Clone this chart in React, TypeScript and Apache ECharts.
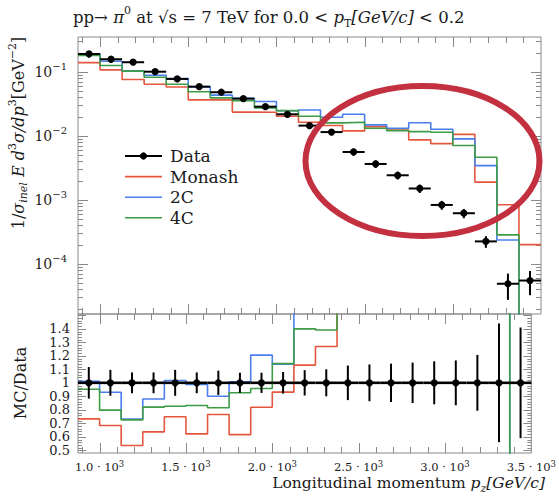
import React, { useEffect, useRef } from 'react';
import * as echarts from 'echarts';

// ---- data ----
const BIN_EDGES = [875, 1000, 1125, 1250, 1375, 1500, 1625, 1750, 1875, 2000, 2125, 2250, 2375, 2500, 2625, 2750, 2875, 3000, 3125, 3250, 3375, 3500];
const DATA = [0.191, 0.158, 0.142, 0.101, 0.0778, 0.059, 0.0482, 0.0383, 0.0287, 0.0218, 0.0145, 0.0115, 0.00562, 0.00365, 0.00243, 0.00151, 0.000835, 0.00062, 0.000225, 0.000049, 0.000055];
const DATA_ERR = [0.117, 0.096, 0.077, 0.077, 0.096, 0.077, 0.09, 0.075, 0.075, 0.08, 0.094, 0.1, 0.128, 0.136, 0.142, 0.15, 0.159, 0.166, 0.207, 0.44, 0.41];
const MONASH = [0.140, 0.108, 0.0761, 0.0643, 0.0582, 0.0367, 0.0369, 0.0236, 0.0235, 0.0203, 0.0164, 0.0146, 0.0120, 0.0140, 0.0124, 0.0087, 0.0076, 0.0106, 0.0019, 0.00084, 0.0002];
const TUNE_2C = [0.193, 0.147, 0.104, 0.0889, 0.0791, 0.0583, 0.0434, 0.0386, 0.0346, 0.0248, 0.0255, 0.0196, 0.0218, 0.0149, 0.0132, 0.0161, 0.0127, 0.0090, 0.00344, 0.000237, 0];
const TUNE_4C = [0.182, 0.126, 0.103, 0.0828, 0.0643, 0.0491, 0.0393, 0.0355, 0.0275, 0.0249, 0.0203, 0.016, 0.0164, 0.0132, 0.0121, 0.0117, 0.0114, 0.0071, 0.00464, 0.000284, 0];

const X_LABELS = [1000, 1500, 2000, 2500, 3000, 3500];
const RATIO_LABELS = [0.5, 0.6, 0.7, 0.8, 0.9, 1.0, 1.1, 1.2, 1.3, 1.4];

const SERIES_NAMES = ['Monash', '2C', '4C'];
const COLORS = ['#e4573e', '#4b7ff0', '#3e9c47'];

const FRAME = '#8a8a8a';
const FONT = 'DejaVu Serif';
const TEXT = '#1a1a1a';

const X_MIN = 875, X_MAX = 3500;
const Y_MIN = 1.65e-5, Y_MAX = 0.352;
const R_MIN = 0.48, R_MAX = 1.51;

function buildOption() {
  const centers = DATA.map((_, i) => (BIN_EDGES[i] + BIN_EDGES[i + 1]) / 2);
  const posLog = (v: number) => (v > 0 ? v : 1e-9);
  const stepData = (vals: number[], f: (v: number, i: number) => number) => {
    const pts = vals.map((v, i) => [BIN_EDGES[i], f(v, i)]);
    pts.push([BIN_EDGES[vals.length], f(vals[vals.length - 1], vals.length - 1)]);
    return pts;
  };
  const mcs = [MONASH, TUNE_2C, TUNE_4C];

  // tick decoration lists
  const xTicks: number[] = [];
  for (let v = 900; v < X_MAX; v += 100) xTicks.push(v);
  const logTicks: number[] = [];
  for (let k = -5; k <= -1; k++) for (let d = 1; d <= 9; d++) {
    const v = d * Math.pow(10, k);
    if (v > Y_MIN && v < Y_MAX) logTicks.push(v);
  }
  const rTicks: number[] = [];
  for (let j = 25; j <= 75; j++) rTicks.push(j * 0.02);

  const tickRender = (yTicks: number[], isMajorY: (v: number) => boolean, yRef: number, xLenMaj: number, xLenMin: number, yLenMaj: number, yLenMin: number) =>
    (params: any, api: any) => {
      const cs = params.coordSys;
      const ch: any[] = [];
      const st = { stroke: FRAME, lineWidth: 1 };
      for (const v of xTicks) {
        const px = Math.round(api.coord([v, yRef])[0]) + 0.5;
        const len = v % 500 === 0 ? xLenMaj : xLenMin;
        ch.push({ type: 'line', shape: { x1: px, y1: cs.y, x2: px, y2: cs.y + len }, style: st });
        ch.push({ type: 'line', shape: { x1: px, y1: cs.y + cs.height, x2: px, y2: cs.y + cs.height - len }, style: st });
      }
      for (const v of yTicks) {
        const py = Math.round(api.coord([1000, v])[1]) + 0.5;
        const len = isMajorY(v) ? yLenMaj : yLenMin;
        ch.push({ type: 'line', shape: { x1: cs.x, y1: py, x2: cs.x + len, y2: py }, style: st });
        ch.push({ type: 'line', shape: { x1: cs.x + cs.width, y1: py, x2: cs.x + cs.width - len, y2: py }, style: st });
      }
      return { type: 'group', children: ch };
    };

  const errRender = (hw: number, r: number) => (params: any, api: any) => {
    const c = api.coord([api.value(0), api.value(1)]);
    const l = api.coord([api.value(4), api.value(1)]);
    const rr = api.coord([api.value(5), api.value(1)]);
    const lo = api.coord([api.value(0), api.value(2)]);
    const hi = api.coord([api.value(0), api.value(3)]);
    return {
      type: 'group',
      children: [
        { type: 'line', shape: { x1: l[0], y1: c[1], x2: rr[0], y2: c[1] }, style: { stroke: '#000', lineWidth: hw } },
        { type: 'line', shape: { x1: c[0], y1: lo[1], x2: c[0], y2: hi[1] }, style: { stroke: '#000', lineWidth: 2 } },
        { type: 'circle', shape: { cx: c[0], cy: c[1], r }, style: { fill: '#000' } },
      ],
    };
  };

  const series: any[] = [];
  mcs.forEach((vals, k) => {
    series.push({
      type: 'line', name: SERIES_NAMES[k], xAxisIndex: 0, yAxisIndex: 0,
      data: stepData(vals, (v) => posLog(v)), step: 'end', symbol: 'none', showSymbol: false,
      lineStyle: { color: COLORS[k], width: 1.6 }, itemStyle: { color: COLORS[k] }, clip: true, z: 2,
    });
  });
  series.push({
    type: 'custom', name: 'Data', xAxisIndex: 0, yAxisIndex: 0, z: 5,
    data: DATA.map((d, i) => [centers[i], d, d * (1 - DATA_ERR[i]), d * (1 + DATA_ERR[i]), BIN_EDGES[i], BIN_EDGES[i + 1]]),
    encode: { x: [0, 4, 5], y: [1, 2, 3] },
    renderItem: errRender(2, 3.6),
  });
  mcs.forEach((vals, k) => {
    series.push({
      type: 'line', name: SERIES_NAMES[k] + ' ratio', xAxisIndex: 1, yAxisIndex: 1,
      data: stepData(vals, (v, i) => v / DATA[i]), step: 'end', symbol: 'none', showSymbol: false,
      lineStyle: { color: COLORS[k], width: 1.6 }, itemStyle: { color: COLORS[k] }, clip: true, z: 2,
    });
  });
  series.push({
    type: 'custom', name: 'Data ratio', xAxisIndex: 1, yAxisIndex: 1, z: 5,
    data: DATA.map((d, i) => [centers[i], 1, 1 - DATA_ERR[i], 1 + DATA_ERR[i], BIN_EDGES[i], BIN_EDGES[i + 1]]),
    encode: { x: [0, 4, 5], y: [1, 2, 3] },
    renderItem: errRender(2.6, 3.6),
  });
  series.push({
    type: 'custom', xAxisIndex: 0, yAxisIndex: 0, z: 1, silent: true, data: [[1000, 0.01]],
    renderItem: tickRender(logTicks, (v) => Math.abs(Math.log10(v) - Math.round(Math.log10(v))) < 1e-6, 0.01, 10, 6, 10, 5),
  });
  series.push({
    type: 'custom', xAxisIndex: 1, yAxisIndex: 1, z: 1, silent: true, data: [[1000, 1]],
    renderItem: tickRender(rTicks, (v) => Math.abs(v * 10 - Math.round(v * 10)) < 1e-6, 1, 10, 6, 8, 4),
  });

  const legendItems = [
    { name: 'Data', color: '#000', dot: true },
    { name: SERIES_NAMES[0], color: COLORS[0], dot: false },
    { name: SERIES_NAMES[1], color: COLORS[1], dot: false },
    { name: SERIES_NAMES[2], color: COLORS[2], dot: false },
  ];
  const legendGraphics: any[] = [];
  legendItems.forEach((it, i) => {
    const y = 156 + i * 20.6;
    legendGraphics.push({ type: 'line', shape: { x1: 125, y1: y, x2: 162, y2: y }, style: { stroke: it.color, lineWidth: it.dot ? 2 : 1.6 }, z: 50 });
    if (it.dot) legendGraphics.push({ type: 'circle', shape: { cx: 143.5, cy: y, r: 3.6 }, style: { fill: '#000' }, z: 51 });
    legendGraphics.push({
      type: 'text', x: 170, y, z: 51,
      style: { text: it.name, fontFamily: FONT, fontSize: 17, fill: TEXT, textAlign: 'left', textVerticalAlign: 'middle' },
    });
  });

  const supStyle = (fs: number) => ({ fontSize: fs, fontFamily: FONT, fill: TEXT, verticalAlign: 'top', lineHeight: fs + 1 });
  const subStyle = (fs: number, italic = false) => ({ fontSize: fs, fontFamily: FONT, fill: TEXT, verticalAlign: 'bottom', lineHeight: fs + 1, fontStyle: italic ? 'italic' : 'normal' });
  const itStyle = (fs: number, lh: number) => ({ fontSize: fs, fontFamily: FONT, fill: TEXT, fontStyle: 'italic', lineHeight: lh });

  return {
    animation: false,
    backgroundColor: '#ffffff',
    grid: [
      { left: 78, top: 37, width: 463, height: 277, show: true, borderColor: FRAME, borderWidth: 1, backgroundColor: 'transparent' },
      { left: 78, top: 314, width: 463, height: 139, show: true, borderColor: FRAME, borderWidth: 1, backgroundColor: 'transparent' },
    ],
    xAxis: [
      { type: 'value', gridIndex: 0, min: X_MIN, max: X_MAX, axisLine: { show: false }, axisTick: { show: false }, axisLabel: { show: false }, splitLine: { show: false } },
      {
        type: 'value', gridIndex: 1, min: X_MIN, max: X_MAX, axisLine: { show: false }, axisTick: { show: false }, splitLine: { show: false },
        axisLabel: {
          show: true, customValues: X_LABELS, margin: 6, fontFamily: FONT, fontSize: 11.5, color: TEXT, lineHeight: 16,
          formatter: (v: number) => (v / 1000).toFixed(1) + ' · 10{sup|3}',
          rich: { sup: { fontSize: 8.5, fontFamily: FONT, color: TEXT, verticalAlign: 'top', lineHeight: 9 } },
        },
      },
    ],
    yAxis: [
      {
        type: 'log', gridIndex: 0, min: Y_MIN, max: Y_MAX, logBase: 10, axisLine: { show: false }, axisTick: { show: false }, splitLine: { show: false },
        axisLabel: {
          show: true, showMinLabel: false, showMaxLabel: false, margin: 11, fontFamily: FONT, fontSize: 14, color: TEXT, lineHeight: 20,
          formatter: (v: number) => {
            const e = Math.round(Math.log10(v));
            return '10{sup|' + (e < 0 ? '−' : '') + Math.abs(e) + '}';
          },
          rich: { sup: { fontSize: 10, fontFamily: FONT, color: TEXT, verticalAlign: 'top', lineHeight: 11 } },
        },
      },
      {
        type: 'value', gridIndex: 1, min: R_MIN, max: R_MAX, axisLine: { show: false }, axisTick: { show: false }, splitLine: { show: false },
        axisLabel: {
          show: true, customValues: RATIO_LABELS, margin: 8, fontFamily: FONT, fontSize: 13, color: TEXT,
          formatter: (v: number) => (Math.abs(v - 1) < 1e-9 ? '1' : v.toFixed(1)),
        },
      },
    ],
    series,
    graphic: [
      {
        type: 'text', x: 73, y: 17, z: 60,
        style: {
          text: 'pp→ {i|π}{sup|0} at √s = 7 TeV for 0.0 < {i|p}{sub|T}{i|[GeV/c]} < 0.2',
          fontFamily: FONT, fontSize: 16.5, fill: TEXT, lineHeight: 24, textAlign: 'left', textVerticalAlign: 'middle',
          rich: { i: itStyle(16.5, 24), sup: supStyle(11), sub: subStyle(11) },
        },
      },
      {
        type: 'text', x: 18, y: 133, rotation: Math.PI / 2, z: 60,
        style: {
          text: '1/{i|σ}{sub|inel} {i|E d}{sup|3}{i|σ/dp}{sup|3}[GeV{sup|−2}]',
          fontFamily: FONT, fontSize: 16, fill: TEXT, lineHeight: 22, textAlign: 'center', textVerticalAlign: 'middle',
          rich: { i: itStyle(16, 22), sup: supStyle(11), sub: subStyle(11, true) },
        },
      },
      {
        type: 'text', x: 20, y: 383, rotation: Math.PI / 2, z: 60,
        style: { text: 'MC/Data', fontFamily: FONT, fontSize: 16, fill: TEXT, textAlign: 'center', textVerticalAlign: 'middle' },
      },
      {
        type: 'text', x: 545, y: 483, z: 60,
        style: {
          text: 'Longitudinal momentum {i|p}{sub|z}{i|[GeV/c]}',
          fontFamily: FONT, fontSize: 15.5, fill: TEXT, lineHeight: 22, textAlign: 'right', textVerticalAlign: 'middle',
          rich: { i: itStyle(15.5, 22), sub: subStyle(11, true) },
        },
      },
      ...legendGraphics,
      {
        type: 'ellipse', z: 70, silent: true,
        shape: { cx: 422.5, cy: 161, rx: 117, ry: 75 },
        style: { fill: 'none', stroke: '#c3303f', lineWidth: 6 },
      },
    ],
  };
}

export default function App() {
  const ref = useRef<HTMLDivElement>(null);
  useEffect(() => {
    if (!ref.current) return;
    const chart = echarts.init(ref.current, undefined, { renderer: 'svg' });
    chart.setOption(buildOption() as any);
    return () => chart.dispose();
  }, []);
  return <div ref={ref} style={{ position: 'fixed', left: 0, top: 0, width: 559, height: 496, background: '#fff' }} />;
}
